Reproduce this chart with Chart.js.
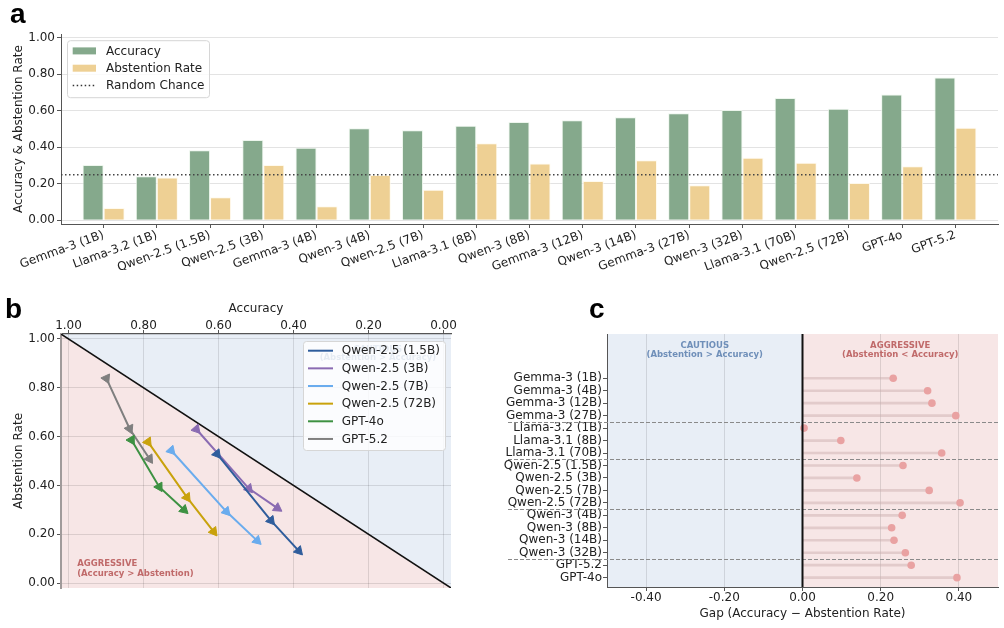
<!DOCTYPE html>
<html>
<head>
<meta charset="utf-8">
<script src="https://cdn.jsdelivr.net/npm/chart.js@4.4.1/dist/chart.umd.min.js"></script>
<style>
  html, body { margin: 0; padding: 0; background: #fff; }
  body { width: 1004px; height: 628px; position: relative; overflow: hidden; }
  .panel { position: absolute; }
  .tag { position: absolute; font: bold 28px 'Liberation Sans', Arial, sans-serif; line-height: 28px; color: #000; }
</style>
</head>
<body>
<canvas class="panel" id="chartA" width="1004" height="245" style="left:0;top:25px"></canvas>
<canvas class="panel" id="chartB" width="470" height="338" style="left:0;top:290px"></canvas>
<canvas class="panel" id="chartC" width="504" height="338" style="left:500px;top:290px"></canvas>
<div class="tag" style="left:10px;top:0">a</div>
<div class="tag" style="left:5px;top:295px">b</div>
<div class="tag" style="left:589px;top:295px">c</div>
<script>
// ---- panel a: accuracy vs abstention per model
const models = ['Gemma-3 (1B)', 'Llama-3.2 (1B)', 'Qwen-2.5 (1.5B)', 'Qwen-2.5 (3B)', 'Gemma-3 (4B)',
  'Qwen-3 (4B)', 'Qwen-2.5 (7B)', 'Llama-3.1 (8B)', 'Qwen-3 (8B)', 'Gemma-3 (12B)', 'Qwen-3 (14B)',
  'Gemma-3 (27B)', 'Qwen-3 (32B)', 'Llama-3.1 (70B)', 'Qwen-2.5 (72B)', 'GPT-4o', 'GPT-5.2'];
const accuracy = [0.303, 0.242, 0.384, 0.440, 0.398, 0.505, 0.494, 0.519, 0.539, 0.549, 0.565,
  0.587, 0.605, 0.670, 0.611, 0.690, 0.783];
const abstention = [0.068, 0.235, 0.127, 0.303, 0.077, 0.248, 0.167, 0.422, 0.312, 0.215, 0.330,
  0.193, 0.343, 0.315, 0.205, 0.297, 0.508];
const randomChance = 0.25;
const rateTicks = [0, 0.2, 0.4, 0.6, 0.8, 1.0];

// ---- panel b: trajectories (accuracy, abstention)
const trajNames = ['Qwen-2.5 (1.5B)', 'Qwen-2.5 (3B)', 'Qwen-2.5 (7B)', 'Qwen-2.5 (72B)', 'GPT-4o', 'GPT-5.2'];
const qwen15Acc = [0.604, 0.460, 0.386], qwen15Abs = [0.529, 0.256, 0.132];
const qwen3bAcc = [0.659, 0.519, 0.443], qwen3bAbs = [0.630, 0.387, 0.307];
const qwen7Acc = [0.726, 0.579, 0.497], qwen7Abs = [0.543, 0.293, 0.174];
const qwen72Acc = [0.788, 0.684, 0.613], qwen72Abs = [0.578, 0.351, 0.211];
const gpt4oAcc = [0.832, 0.758, 0.692], gpt4oAbs = [0.586, 0.394, 0.300];
const gpt52Acc = [0.899, 0.837, 0.784], gpt52Abs = [0.838, 0.632, 0.509];
const trajColors = ['#2f5d9c', '#8a6bb2', '#6aacee', '#c9a20c', '#3d9142', '#7f7f7f'];
const bLimits = [-0.02, 1.02];

// ---- panel c: gap per model family
const gapModels = ['Gemma-3 (1B)', 'Gemma-3 (4B)', 'Gemma-3 (12B)', 'Gemma-3 (27B)', 'Llama-3.2 (1B)',
  'Llama-3.1 (8B)', 'Llama-3.1 (70B)', 'Qwen-2.5 (1.5B)', 'Qwen-2.5 (3B)', 'Qwen-2.5 (7B)',
  'Qwen-2.5 (72B)', 'Qwen-3 (4B)', 'Qwen-3 (8B)', 'Qwen-3 (14B)', 'Qwen-3 (32B)', 'GPT-5.2', 'GPT-4o'];
const gapValues = [0.232, 0.320, 0.331, 0.392, 0.004, 0.098, 0.356, 0.257, 0.139, 0.324, 0.403,
  0.255, 0.228, 0.234, 0.263, 0.278, 0.395];
const familySizes = [4, 3, 4, 4, 2];
const gapTicks = [-0.4, -0.2, 0, 0.2, 0.4];

const GREEN = '#85a98c';
const SAND = '#eed094';
const CAUTIOUS_BG = '#e8eef6';
const AGGRESSIVE_BG = '#f7e6e6';
const CAUTIOUS_TXT = '#6f8fb9';
const AGGRESSIVE_TXT = '#c06a6a';
const AXIS = '#555';
const GRID = 'rgba(0,0,0,0.11)';

Chart.defaults.font.family = "'DejaVu Sans', sans-serif";
Chart.defaults.font.size = 12;
Chart.defaults.color = '#222';
Chart.defaults.animation = false;
Chart.defaults.plugins.tooltip.enabled = false;
Chart.defaults.plugins.legend.display = false;

const fixed = (v) => v.toFixed(2);

// Legend with a white box, drawn on top like matplotlib's
function legendBox(entries, o) {
  return {
    id: 'legendBox',
    afterDraw(chart) {
      const { ctx, chartArea } = chart;
      const x0 = o.right !== undefined ? chartArea.right - o.right - o.width : chartArea.left + o.left;
      const y0 = chartArea.top + o.top;
      ctx.save();
      ctx.fillStyle = 'rgba(255,255,255,0.82)';
      ctx.strokeStyle = '#d6d6d6';
      ctx.lineWidth = 1;
      ctx.beginPath();
      ctx.roundRect(x0 + 0.5, y0 + 0.5, o.width, o.height, 3);
      ctx.fill();
      ctx.stroke();
      ctx.font = o.font;
      ctx.textBaseline = 'middle';
      entries.forEach((e, i) => {
        const cy = y0 + o.firstRow + i * o.rowGap;
        const sx = x0 + o.swatchX;
        if (e.kind === 'box') {
          ctx.fillStyle = e.color;
          ctx.fillRect(sx, cy - 3.5, o.swatchW, 7);
        } else {
          ctx.strokeStyle = e.color;
          ctx.lineWidth = e.width || 2;
          ctx.setLineDash(e.dash || []);
          ctx.beginPath();
          ctx.moveTo(sx, cy);
          ctx.lineTo(sx + o.swatchW, cy);
          ctx.stroke();
          ctx.setLineDash([]);
        }
        ctx.fillStyle = '#222';
        ctx.fillText(e.label, x0 + o.textX, cy + 0.5);
      });
      ctx.restore();
    }
  };
}

function drawCaption(ctx, lines, x, ys, color, align) {
  ctx.save();
  ctx.font = "bold 8.5px 'DejaVu Sans', sans-serif";
  ctx.fillStyle = color;
  ctx.textAlign = align;
  ctx.textBaseline = 'middle';
  lines.forEach((t, i) => ctx.fillText(t, x, ys[i]));
  ctx.restore();
}

// ---------------- a ----------------
const chanceLine = {
  id: 'chanceLine',
  afterDatasetsDraw(chart) {
    const { ctx, chartArea, scales } = chart;
    const y = scales.y.getPixelForValue(randomChance);
    ctx.save();
    ctx.strokeStyle = '#444';
    ctx.lineWidth = 1.5;
    ctx.setLineDash([1.5, 2.5]);
    ctx.beginPath();
    ctx.moveTo(chartArea.left, y);
    ctx.lineTo(chartArea.right, y);
    ctx.stroke();
    ctx.restore();
  }
};

new Chart(document.getElementById('chartA'), {
  type: 'bar',
  data: {
    datasets: [
      { label: 'Accuracy', data: accuracy.map((v, i) => ({ x: i, y: v })), backgroundColor: GREEN,
        borderColor: 'rgba(235,245,235,0.9)', borderWidth: 1, categoryPercentage: 0.79, barPercentage: 1 },
      { label: 'Abstention Rate', data: abstention.map((v, i) => ({ x: i, y: v })), backgroundColor: SAND,
        borderColor: 'rgba(255,250,235,0.9)', borderWidth: 1, categoryPercentage: 0.79, barPercentage: 1 }
    ]
  },
  options: {
    responsive: false,
    layout: { padding: { top: 9, right: 6, left: 0, bottom: 0 } },
    scales: {
      x: {
        type: 'linear', offset: false, min: -0.8, max: models.length - 0.2,
        afterBuildTicks: (s) => { s.ticks = models.map((_, i) => ({ value: i })); },
        grid: { offset: false, drawOnChartArea: false, tickLength: 4, tickColor: AXIS },
        border: { color: AXIS },
        ticks: { callback: (v) => models[v], minRotation: 20, maxRotation: 20, autoSkip: false, padding: 0 },
        afterFit: (s) => { s.height = 46; }
      },
      y: {
        min: -0.02, max: 1.02,
        afterBuildTicks: (s) => { s.ticks = rateTicks.map((v) => ({ value: v })); },
        grid: { color: GRID, borderDash: [3, 3], tickColor: AXIS, tickLength: 4 },
        border: { color: AXIS },
        ticks: { callback: fixed, padding: 2 },
        title: { display: true, text: 'Accuracy & Abstention Rate', padding: { top: 12, bottom: 0 } },
        afterFit: (s) => { s.width = 61; }
      }
    }
  },
  plugins: [chanceLine, legendBox([
    { kind: 'box', color: GREEN, label: 'Accuracy' },
    { kind: 'box', color: SAND, label: 'Abstention Rate' },
    { kind: 'line', color: '#333', width: 1.5, dash: [1.5, 2.5], label: 'Random Chance' }
  ], { left: 6, top: 6, width: 142, height: 57, firstRow: 10.7, rowGap: 17.3, swatchX: 5.7, swatchW: 23.3,
       textX: 39, font: "12px 'DejaVu Sans', sans-serif" })]
});

// ---------------- b ----------------
function heading(ctx) {
  if (ctx.dataIndex === undefined) return 0;
  const pts = ctx.chart.data.datasets[ctx.datasetIndex].data;
  const i = ctx.dataIndex;
  const a = pts[i === 0 ? 0 : i - 1];
  const b = pts[i === 0 ? 1 : i];
  const { x, y } = ctx.chart.scales;
  const dx = x.getPixelForValue(b.x) - x.getPixelForValue(a.x);
  const dy = y.getPixelForValue(b.y) - y.getPixelForValue(a.y);
  return Math.atan2(dx, -dy) * 180 / Math.PI;
}

const trajAcc = [qwen15Acc, qwen3bAcc, qwen7Acc, qwen72Acc, gpt4oAcc, gpt52Acc];
const trajAbs = [qwen15Abs, qwen3bAbs, qwen7Abs, qwen72Abs, gpt4oAbs, gpt52Abs];
const trajSets = trajNames.map((name, k) => ({
  type: 'line',
  label: name,
  data: trajAcc[k].map((a, i) => ({ x: a, y: trajAbs[k][i] })),
  borderColor: trajColors[k],
  backgroundColor: trajColors[k],
  borderWidth: 2,
  pointStyle: 'triangle',
  pointRadius: 5.5,
  pointBorderWidth: 1,
  rotation: heading,
  order: 1
}));

const regions = {
  id: 'regions',
  beforeDraw(chart) {
    const { ctx, scales: { x, y } } = chart;
    const [lo, hi] = bLimits;
    const pLo = [x.getPixelForValue(lo), y.getPixelForValue(lo)];
    const pHi = [x.getPixelForValue(hi), y.getPixelForValue(hi)];
    ctx.save();
    ctx.fillStyle = CAUTIOUS_BG;
    ctx.beginPath();
    ctx.moveTo(...pLo); ctx.lineTo(...pHi); ctx.lineTo(x.getPixelForValue(lo), y.getPixelForValue(hi));
    ctx.closePath(); ctx.fill();
    ctx.fillStyle = AGGRESSIVE_BG;
    ctx.beginPath();
    ctx.moveTo(...pLo); ctx.lineTo(...pHi); ctx.lineTo(x.getPixelForValue(hi), y.getPixelForValue(lo));
    ctx.closePath(); ctx.fill();
    ctx.restore();
  },
  beforeDatasetsDraw(chart) {
    const { ctx, scales: { x, y } } = chart;
    drawCaption(ctx, ['AGGRESSIVE', '(Accuracy > Abstention)'], x.getPixelForValue(0.977),
      [y.getPixelForValue(0.081), y.getPixelForValue(0.040)], AGGRESSIVE_TXT, 'left');
    drawCaption(ctx, ['CAUTIOUS', '(Abstention > Accuracy)'], x.getPixelForValue(0.175),
      [y.getPixelForValue(0.954), y.getPixelForValue(0.921)], CAUTIOUS_TXT, 'center');
  }
};

new Chart(document.getElementById('chartB'), {
  type: 'line',
  data: {
    datasets: [
      ...trajSets,
      { type: 'line', label: 'parity', data: bLimits.map((v) => ({ x: v, y: v })), borderColor: '#111',
        borderWidth: 1.5, pointRadius: 0, order: 5 }
    ]
  },
  options: {
    responsive: false,
    layout: { padding: { top: 0, right: 19, left: 0, bottom: 40 } },
    scales: {
      x: {
        type: 'linear', position: 'top', reverse: true, min: bLimits[0], max: bLimits[1],
        afterBuildTicks: (s) => { s.ticks = rateTicks.map((v) => ({ value: v })); },
        grid: { color: GRID, borderDash: [3, 3], tickColor: AXIS, tickLength: 4 },
        border: { color: AXIS, width: 1.2 },
        ticks: { callback: fixed, padding: -3 },
        title: { display: true, text: 'Accuracy', padding: { top: 12, bottom: 0 } },
        afterFit: (s) => { s.height = 44; }
      },
      y: {
        type: 'linear', min: bLimits[0], max: bLimits[1],
        afterBuildTicks: (s) => { s.ticks = rateTicks.map((v) => ({ value: v })); },
        grid: { color: GRID, borderDash: [3, 3], tickColor: AXIS, tickLength: 4 },
        border: { color: '#a09a9a', width: 2 },
        ticks: { callback: fixed, padding: 2 },
        title: { display: true, text: 'Abstention Rate', padding: { top: 12, bottom: 0 } },
        afterFit: (s) => { s.width = 61; }
      }
    }
  },
  plugins: [regions, legendBox(
    trajNames.map((n, k) => ({ kind: 'line', color: trajColors[k], width: 2, label: n })),
    { right: 6, top: 7, width: 142, height: 109, firstRow: 9.7, rowGap: 17.65, swatchX: 5, swatchW: 25,
      textX: 38.7, font: "12px 'DejaVu Sans', sans-serif" })]
});

// ---------------- c ----------------
const gapDecor = {
  id: 'gapDecor',
  beforeDraw(chart) {
    const { ctx, chartArea: a, scales: { x } } = chart;
    const x0 = x.getPixelForValue(0);
    ctx.save();
    ctx.fillStyle = CAUTIOUS_BG;
    ctx.fillRect(a.left, a.top, x0 - a.left, a.bottom - a.top);
    ctx.fillStyle = AGGRESSIVE_BG;
    ctx.fillRect(x0, a.top, a.right - x0, a.bottom - a.top);
    ctx.restore();
  },
  beforeDatasetsDraw(chart) {
    const { ctx, scales: { x, y } } = chart;
    const rows = [y.getPixelForValue(-2.62), y.getPixelForValue(-1.87)];
    drawCaption(ctx, ['CAUTIOUS', '(Abstention > Accuracy)'], x.getPixelForValue(-0.25), rows, CAUTIOUS_TXT, 'center');
    drawCaption(ctx, ['AGGRESSIVE', '(Abstention < Accuracy)'], x.getPixelForValue(0.25), rows, AGGRESSIVE_TXT, 'center');
  },
  afterDatasetsDraw(chart) {
    const { ctx, chartArea: a, scales: { x, y } } = chart;
    ctx.save();
    // family separators
    ctx.strokeStyle = '#8a8a8a';
    ctx.lineWidth = 1;
    ctx.setLineDash([4, 2]);
    let acc = 0;
    familySizes.slice(0, -1).forEach((n) => {
      acc += n;
      const py = Math.round(y.getPixelForValue(acc - 0.5)) + 0.5;
      ctx.beginPath();
      ctx.moveTo(a.left - 99, py);
      ctx.lineTo(a.right, py);
      ctx.stroke();
    });
    // zero line
    ctx.setLineDash([]);
    ctx.strokeStyle = '#111';
    ctx.lineWidth = 2;
    const x0 = x.getPixelForValue(0);
    ctx.beginPath();
    ctx.moveTo(x0, a.top);
    ctx.lineTo(x0, a.bottom);
    ctx.stroke();
    ctx.restore();
  }
};

new Chart(document.getElementById('chartC'), {
  type: 'bar',
  data: {
    datasets: [
      { type: 'scatter', label: 'gap', data: gapValues.map((g, i) => ({ x: g, y: i })),
        backgroundColor: '#e9a2a2', borderWidth: 0, pointRadius: 3.8, order: 1 },
      { type: 'bar', indexAxis: 'y', label: 'stem', data: gapValues.map((g, i) => ({ x: [0, g], y: i })),
        backgroundColor: 'rgba(200,170,170,0.45)', barThickness: 2, order: 2 }
    ]
  },
  options: {
    responsive: false,
    layout: { padding: { top: 44, right: 6, left: 0, bottom: 0 } },
    scales: {
      x: {
        type: 'linear', offset: false, min: -0.5, max: 0.5,
        afterBuildTicks: (s) => { s.ticks = gapTicks.map((v) => ({ value: v })); },
        grid: { offset: false, color: GRID, borderDash: [3, 3], tickColor: AXIS, tickLength: 4 },
        border: { color: AXIS },
        ticks: { callback: fixed, padding: 0 },
        title: { display: true, text: 'Gap (Accuracy \u2212 Abstention Rate)', padding: { top: 0, bottom: 7 } },
        afterFit: (s) => { s.height = 41; }
      },
      y: {
        type: 'linear', offset: false, reverse: true, min: -3.55, max: 16.75,
        afterBuildTicks: (s) => { s.ticks = gapModels.map((_, i) => ({ value: i })); },
        grid: { offset: false, drawOnChartArea: false, tickColor: AXIS, tickLength: 4 },
        border: { color: AXIS },
        ticks: { autoSkip: false, callback: (v) => gapModels[v], padding: 1, font: { size: 12, lineHeight: 1 } },
        afterFit: (s) => { s.width = 107; }
      }
    }
  },
  plugins: [gapDecor]
});
</script>
</body>
</html>
